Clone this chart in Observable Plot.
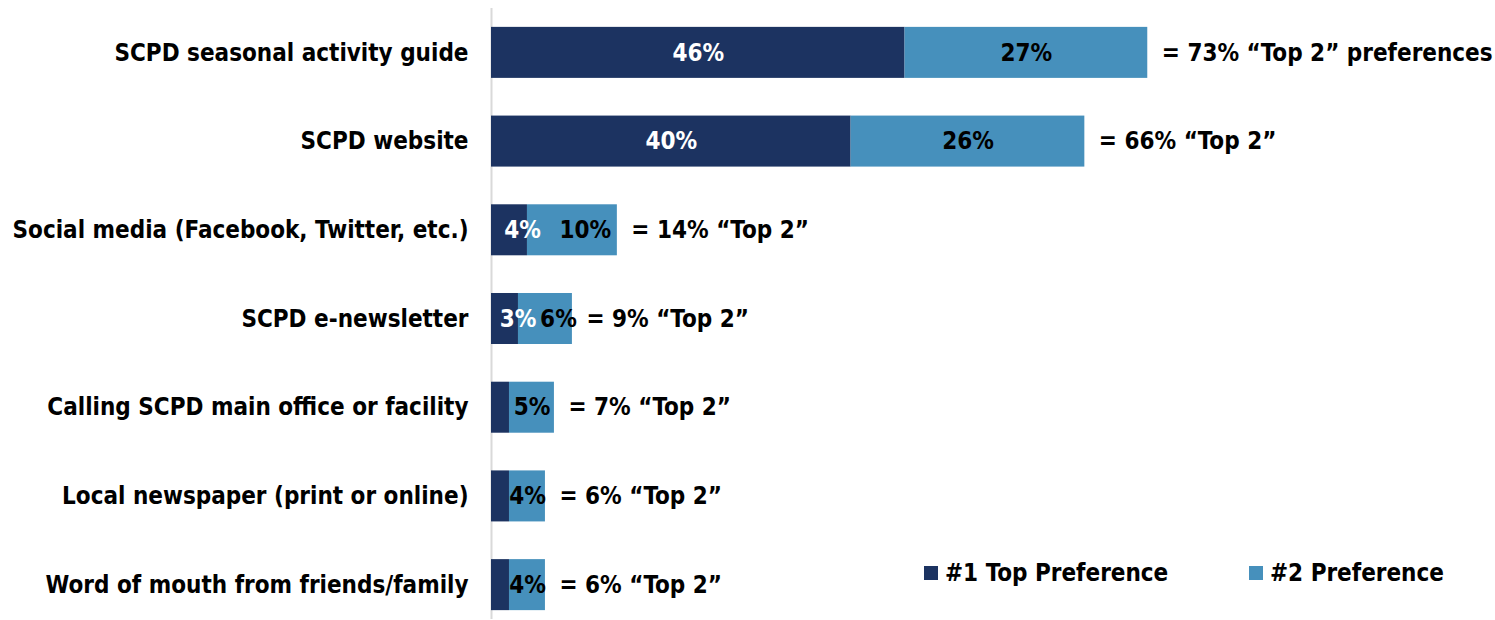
<!DOCTYPE html>
<html>
<head>
<meta charset="utf-8">
<script src="https://cdn.jsdelivr.net/npm/d3@7"></script>
<script src="https://cdn.jsdelivr.net/npm/@observablehq/plot@0.6"></script>
<style>
  html, body { margin: 0; padding: 0; background: #fff; }
  #wrap { position: relative; width: 1495px; height: 620px; font-family: "DejaVu Sans Condensed", "DejaVu Sans", sans-serif; font-weight: bold; }
  .legend { position: absolute; top: 558px; display: flex; align-items: center; font-size: 24px; line-height: 30px; color: #000; }
  .legend .sw { width: 14px; height: 14px; margin-right: 7px; }
</style>
</head>
<body>
<div id="wrap"></div>
<script>
const categories = [
  "SCPD seasonal activity guide",
  "SCPD website",
  "Social media (Facebook, Twitter, etc.)",
  "SCPD e-newsletter",
  "Calling SCPD main office or facility",
  "Local newspaper (print or online)",
  "Word of mouth from friends/family"
];
const seriesNames = ["#1 Top Preference", "#2 Preference"];
const top1 = [46, 40, 4, 3, 2, 2, 2];
const top2 = [27, 26, 10, 6, 5, 4, 4];
const totals = [73, 66, 14, 9, 7, 6, 6];
const totalLabels = [
  "= 73% \u201cTop 2\u201d preferences",
  "= 66% \u201cTop 2\u201d",
  "= 14% \u201cTop 2\u201d",
  "= 9% \u201cTop 2\u201d",
  "= 7% \u201cTop 2\u201d",
  "= 6% \u201cTop 2\u201d",
  "= 6% \u201cTop 2\u201d"
];
const colors = ["#1c3361", "#4690bc"];

const rows = [];
categories.forEach((c, i) => {
  rows.push({category: c, series: seriesNames[0], value: top1[i], idx: i});
  rows.push({category: c, series: seriesNames[1], value: top2[i], idx: i});
});
const totalRows = categories.map((c, i) => ({category: c, total: totals[i], label: totalLabels[i]}));

// a row is "crowded" when both small segment labels are shown side by side
const crowded = (d) => top1[d.idx] >= 3 && totals[d.idx] < 20;
const shown = (d) => d.value >= 3;
const labelText = (want) => (d) => (shown(d) && crowded(d) === want) ? d.value + "%" : null;
const labelFill = (d) => d.series === seriesNames[0] ? "white" : "black";

const font = "'DejaVu Sans Condensed', 'DejaVu Sans', sans-serif";

const chart = Plot.plot({
  width: 1495,
  height: 620,
  marginLeft: 491,
  marginRight: 105,
  marginTop: 18,
  marginBottom: 1,
  style: {fontFamily: font, fontSize: "24px", fontWeight: "bold", color: "#000", background: "#fff", overflow: "visible"},
  x: {domain: [0, 100], axis: null},
  y: {domain: categories, paddingInner: 0.425, paddingOuter: 0.1, round: false, label: null},
  color: {domain: seriesNames, range: colors},
  marks: [
    Plot.ruleX([0], {stroke: "#d9d9d9", strokeWidth: 2, insetTop: -10}),
    Plot.barX(rows, {x: "value", y: "category", fill: "series"}),
    Plot.axisY({tickSize: 0, tickPadding: 23, fontSize: 24, fontWeight: "bold", label: null}),
    Plot.textX(rows, Plot.stackX({
      x: "value", y: "category", z: "series",
      text: labelText(false), fill: labelFill,
      fontSize: 24, fontWeight: "bold"
    })),
    Plot.textX(rows, Plot.stackX({
      x: "value", y: "category", z: "series",
      text: labelText(true), fill: labelFill,
      fontSize: 24, fontWeight: "bold", dx: 13
    })),
    Plot.text(totalRows, {
      x: "total", y: "category", text: "label",
      textAnchor: "start", dx: 14, fill: "black",
      fontSize: 24, fontWeight: "bold"
    })
  ]
});
const wrap = document.getElementById("wrap");
wrap.appendChild(chart);

const legendItems = [
  {name: seriesNames[0], color: colors[0], left: 924},
  {name: seriesNames[1], color: colors[1], left: 1249}
];
for (const it of legendItems) {
  const el = document.createElement("div");
  el.className = "legend";
  el.style.left = it.left + "px";
  el.innerHTML = `<div class="sw" style="background:${it.color}"></div><span>${it.name}</span>`;
  wrap.appendChild(el);
}
</script>
</body>
</html>
